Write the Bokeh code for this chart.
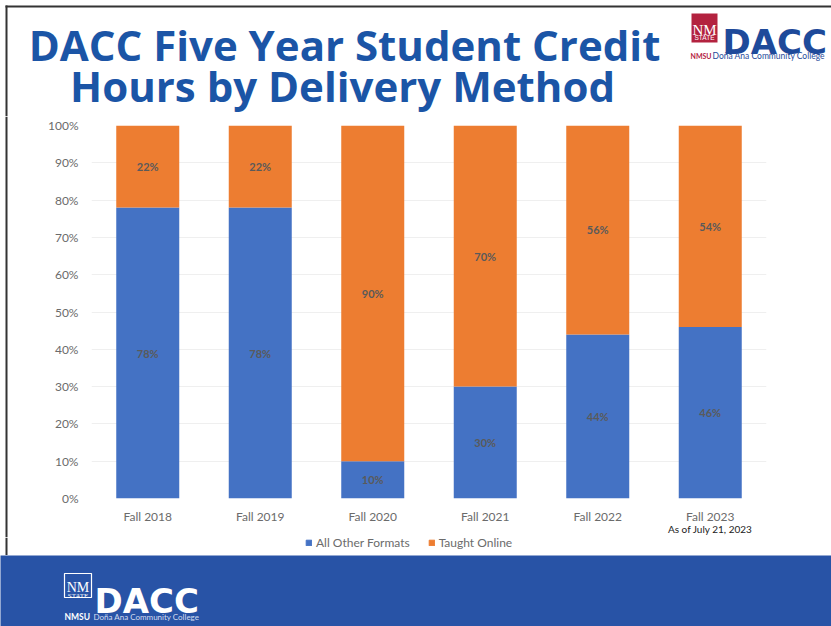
from bokeh.plotting import figure
from bokeh.layouts import column, row
from bokeh.models import (Range1d, FactorRange, ColumnDataSource, Legend, LegendItem,
                          FixedTicker, CategoricalAxis, CustomJSTickFormatter)
from bokeh.core.properties import value
from bokeh.embed import file_html
from bokeh.resources import INLINE

# ---------------- data ----------------
categories = ["Fall 2018", "Fall 2019", "Fall 2020", "Fall 2021", "Fall 2022", "Fall 2023"]
all_other_formats = [78, 78, 10, 30, 44, 46]
taught_online = [22, 22, 90, 70, 56, 54]
series_names = ["All Other Formats", "Taught Online"]
y_ticks = [0, 10, 20, 30, 40, 50, 60, 70, 80, 90, 100]
y_tick_labels = ["0%", "10%", "20%", "30%", "40%", "50%", "60%", "70%", "80%", "90%", "100%"]
note_2023 = "As of July 21, 2023"
title_lines = ["DACC Five Year Student Credit", "Hours by Delivery Method"]
logo_word = "DACC"
logo_sub_a = "NMSU"
logo_sub_b = "Doña Ana Community College"

# ---------------- styles ----------------
BLUE = "#4472C4"
ORANGE = "#ED7D31"
TITLE_BLUE = "#1B55A6"
BAND = "#2853A6"
LOGO_BLUE = "#1E4A9A"
LOGO_RED = "#B3223F"
AXIS_GRAY = "#6B6B6B"
FRAME_LINE = "#333333"
FONT = "Lato"
NAN = float("nan")

W, H = 831, 626
TOP_H = 116
CHART_BOTTOM = 537
LEGEND_BOTTOM = 555
CHART_H = CHART_BOTTOM - TOP_H
LEG_H = LEGEND_BOTTOM - CHART_BOTTOM
BOT_H = H - LEGEND_BOTTOM
STRIP_W = 8


def deco_figure(w, h, x0, x1, y0, y1, **kw):
    f = figure(width=w, height=h, x_range=Range1d(x0, x1), y_range=Range1d(y1, y0),
               output_backend="svg", toolbar_location=None, min_border=0,
               x_axis_location=None, y_axis_location=None, **kw)
    f.grid.visible = False
    f.outline_line_color = None
    f.frame_align = False
    return f


# ---------------- top (title + logo) ----------------
top = deco_figure(W, TOP_H, 0, W, 0, TOP_H)
top.quad(left=[5], right=[W], top=[5], bottom=[7], fill_color=FRAME_LINE, line_color=None)
top.quad(left=[5], right=[7], top=[5], bottom=[TOP_H], fill_color=FRAME_LINE, line_color=None)
top.text(x=[344, 342], y=[44, 85], text=title_lines, text_font=value("Open Sans"),
         text_font_style="bold", text_font_size="42px", text_color=TITLE_BLUE,
         text_align="center", text_baseline="alphabetic")
# NM State mark
top.quad(left=[691], right=[717], top=[13], bottom=[42], fill_color=LOGO_RED, line_color=None)
top.text(x=[704], y=[29], text=["NM"], text_font=value("Liberation Serif"),
         text_font_size="15px", text_color="white", text_align="center", text_baseline="alphabetic")
top.text(x=[704], y=[37], text=["STATE"], text_font=value("Liberation Sans"),
         text_font_size="6.5px", text_color="white", text_align="center", text_baseline="alphabetic")
top.text(x=[722], y=[41], text=[logo_word], text_font=value("DejaVu Sans"), text_font_style="bold",
         text_font_size="34px", text_color=LOGO_BLUE, text_align="left", text_baseline="alphabetic")
top.text(x=[690], y=[55], text=[logo_sub_a], text_font=value(FONT), text_font_style="bold",
         text_font_size="7px", text_color=LOGO_RED, text_align="left", text_baseline="alphabetic")
top.text(x=[712], y=[55], text=[logo_sub_b], text_font=value(FONT),
         text_font_size="8.5px", text_color=LOGO_BLUE, text_align="left", text_baseline="alphabetic")

# ---------------- left border strip ----------------
strip = deco_figure(STRIP_W, CHART_H, 0, STRIP_W, 0, CHART_H)
strip.quad(left=[5], right=[7], top=[0], bottom=[CHART_H], fill_color=FRAME_LINE, line_color=None)

# ---------------- chart ----------------
p = figure(width=W - STRIP_W, height=CHART_H,
           x_range=FactorRange(factors=categories, range_padding=0),
           y_range=Range1d(0, 100), output_backend="svg", toolbar_location=None,
           min_border_left=91 - STRIP_W, min_border_right=W - 766, min_border_top=9,
           min_border_bottom=CHART_BOTTOM - 500)
p.frame_align = False
p.outline_line_color = None
p.xgrid.visible = False
p.ygrid.grid_line_color = "#EFEFEF"
p.ygrid.ticker = FixedTicker(ticks=y_ticks)

src = ColumnDataSource(dict(cat=categories, other=all_other_formats, online=taught_online))
rs = p.vbar_stack(["other", "online"], x="cat", width=0.56, color=[BLUE, ORANGE],
                  line_color=None, source=src)

lab_x, lab_y, lab_t = [], [], []
for c, a, b in zip(categories, all_other_formats, taught_online):
    lab_x += [c, c]
    lab_y += [a / 2, a + b / 2]
    lab_t += [f"{a}%", f"{b}%"]
p.text(x=lab_x, y=lab_y, text=lab_t, text_font=value(FONT), text_font_style="bold",
       text_font_size="11px", text_color="#5A5A5A", text_align="center", text_baseline="middle")

yax = p.yaxis[0]
yax.ticker = FixedTicker(ticks=y_ticks)
yax.major_label_overrides = {t: l for t, l in zip(y_ticks, y_tick_labels)}
yax.axis_line_color = None
yax.major_tick_line_color = None
yax.minor_tick_line_color = None
yax.major_label_standoff = 7
yax.major_label_text_font = FONT
yax.major_label_text_font_size = "12px"
yax.major_label_text_color = AXIS_GRAY

xax = p.xaxis[0]
xax.axis_line_color = None
xax.major_tick_line_color = None
xax.major_tick_out = 0
xax.major_tick_in = 0
xax.major_label_standoff = 10
xax.major_label_text_font = FONT
xax.major_label_text_font_size = "12px"
xax.major_label_text_color = AXIS_GRAY

ax2 = CategoricalAxis(formatter=CustomJSTickFormatter(
    args=dict(last=categories[-1], note=note_2023),
    code="return tick == last ? note : '';"))
ax2.axis_line_color = None
ax2.major_tick_line_color = None
ax2.major_tick_out = 0
ax2.major_tick_in = 0
ax2.major_label_standoff = -4
ax2.major_label_text_font = FONT
ax2.major_label_text_font_size = "10px"
ax2.major_label_text_color = "#222222"
p.add_layout(ax2, "below")

# ---------------- legend strip ----------------
leg = deco_figure(W, LEG_H, 0, W, CHART_BOTTOM, LEGEND_BOTTOM)
leg.quad(left=[5], right=[7], top=[CHART_BOTTOM], bottom=[LEGEND_BOTTOM], fill_color=FRAME_LINE,
         line_color=None)
# legend proxies (no visible mark: NaN position), coloured like the series
lr1 = leg.vbar(x=[NAN], top=[NAN], width=1, color=BLUE)
lr2 = leg.vbar(x=[NAN], top=[NAN], width=1, color=ORANGE)
legend = Legend(items=[LegendItem(label=series_names[0], renderers=[lr1]),
                       LegendItem(label=series_names[1], renderers=[lr2])],
                orientation="horizontal", location=(305, 5), glyph_width=7, glyph_height=7,
                label_height=12, label_standoff=4, spacing=18, padding=0, margin=0,
                label_text_font=FONT, label_text_font_size="12px", label_text_color=AXIS_GRAY,
                border_line_color=None, background_fill_alpha=0)
leg.add_layout(legend)

# ---------------- bottom band ----------------
bot = deco_figure(W, BOT_H, 0, W, LEGEND_BOTTOM, H, background_fill_color=BAND,
                  border_fill_color=BAND)
bot.quad(left=[64], right=[91], top=[573], bottom=[597], fill_color=None, line_color="white", line_width=1.2)
bot.text(x=[77.5], y=[587], text=["NM"], text_font=value("Liberation Serif"),
         text_font_size="14px", text_color="white", text_align="center", text_baseline="alphabetic")
bot.text(x=[77.5], y=[595], text=["STATE"], text_font=value("Liberation Serif"),
         text_font_size="7px", text_color="white", text_align="center", text_baseline="alphabetic")
bot.text(x=[94], y=[600], text=[logo_word], text_font=value("DejaVu Sans"), text_font_style="bold",
         text_font_size="34px", text_color="white", text_align="left", text_baseline="alphabetic")
bot.text(x=[64], y=[616], text=[logo_sub_a], text_font=value(FONT), text_font_style="bold",
         text_font_size="8.5px", text_color="white", text_align="left", text_baseline="alphabetic")
bot.text(x=[93], y=[616], text=[logo_sub_b], text_font=value(FONT),
         text_font_size="8px", text_color="#D5DDF0", text_align="left", text_baseline="alphabetic")

layout = column(top, row(strip, p, spacing=0), leg, bot, spacing=0)
open("out.html", "w").write(file_html(layout, INLINE))
